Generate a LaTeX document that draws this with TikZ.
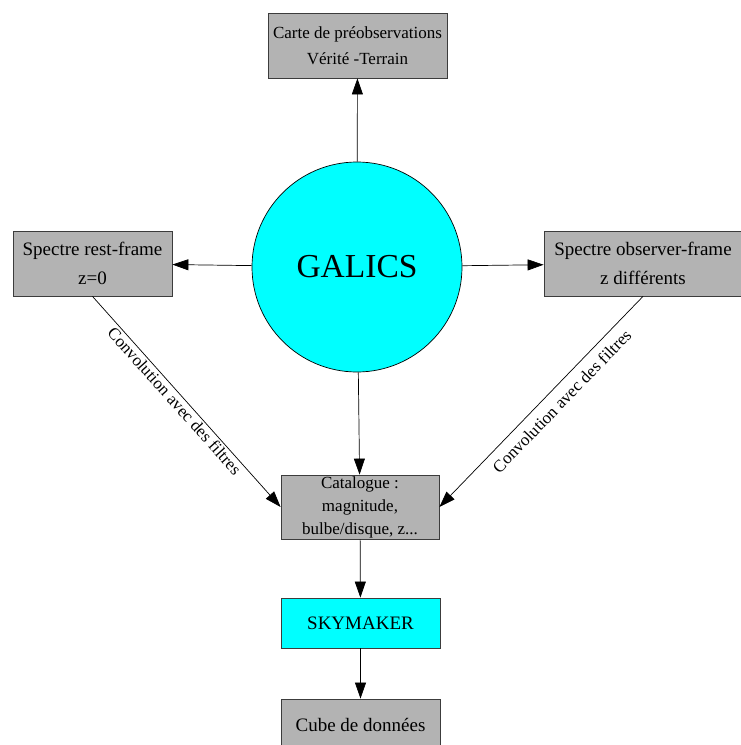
\documentclass[tikz,border=0pt]{standalone}
\usepackage{fontspec}
\setmainfont{Liberation Serif}
\usetikzlibrary{arrows.meta, positioning}
\definecolor{cBox}{RGB}{179,179,179}
\definecolor{cEdge}{RGB}{60,60,60}
\definecolor{cCyan}{RGB}{0,255,255}
\tikzset{
	graybox/.style ={rectangle, draw=cEdge, line width=0.8pt, fill=cBox, align=center, inner sep=0pt},
	cyanbox/.style ={rectangle, draw=cEdge, line width=0.8pt, fill=cCyan, align=center, inner sep=0pt},
	bigtxt/.style  ={font=\fontsize{19}{29}\selectfont},
	smalltxt/.style={font=\fontsize{17}{26}\selectfont},
	flowarrow/.style={-{Triangle[length=16pt, width=11pt]}, line width=0.7pt},
	convlbl/.style ={font=\fontsize{17}{20}\selectfont, inner sep=2pt},
}

\begin{document}
\begin{tikzpicture}[x=1pt, y=-1pt]
	\useasboundingbox (0,0) rectangle (741,745);
	% boxes
	\node[graybox, smalltxt, minimum width=179pt, minimum height=65pt] (carte) at (357.5,45.5) {Carte de préobservations\\ Vérité -Terrain};
	\node[circle, draw=black, line width=0.7pt, fill=cCyan, minimum size=210pt, font=\fontsize{33.5}{36}\selectfont] (galics) at (357,267) {GALICS};
	\node[graybox, bigtxt, minimum width=159pt, minimum height=65pt] (rest) at (92.5,263.5) {Spectre rest-frame\\ z=0};
	\node[graybox, bigtxt, minimum width=198pt, minimum height=65pt] (obs) at (643,263.5) {Spectre observer-frame\\ z différents};
	\node[graybox, font=\fontsize{17}{23}\selectfont, minimum width=158pt, minimum height=64pt] (cat) at (360,507) {Catalogue :\\ magnitude,\\ bulbe/disque, z...};
	\node[cyanbox, bigtxt, minimum width=159pt, minimum height=50pt] (sky) at (360.5,623) {SKYMAKER};
	\node[graybox, bigtxt, minimum width=159pt, minimum height=52pt] (cube) at (360.5,725) {Cube de données};
	% arrows
	\draw[flowarrow] (galics) -- (carte);
	\draw[flowarrow] (galics) -- (rest);
	\draw[flowarrow] (galics) -- (obs);
	\draw[flowarrow] (galics) -- (cat);
	\draw[flowarrow] (rest.south) -- node[pos=0.47, sloped, below, convlbl] {Convolution avec des filtres} (cat.west);
	\draw[flowarrow] (obs.south) -- node[pos=0.45, sloped, below, convlbl, inner sep=8pt] {Convolution avec des filtres} (cat.east);
	\draw[flowarrow] (cat) -- (sky);
	\draw[flowarrow] (sky) -- (cube);
\end{tikzpicture}
\end{document}
